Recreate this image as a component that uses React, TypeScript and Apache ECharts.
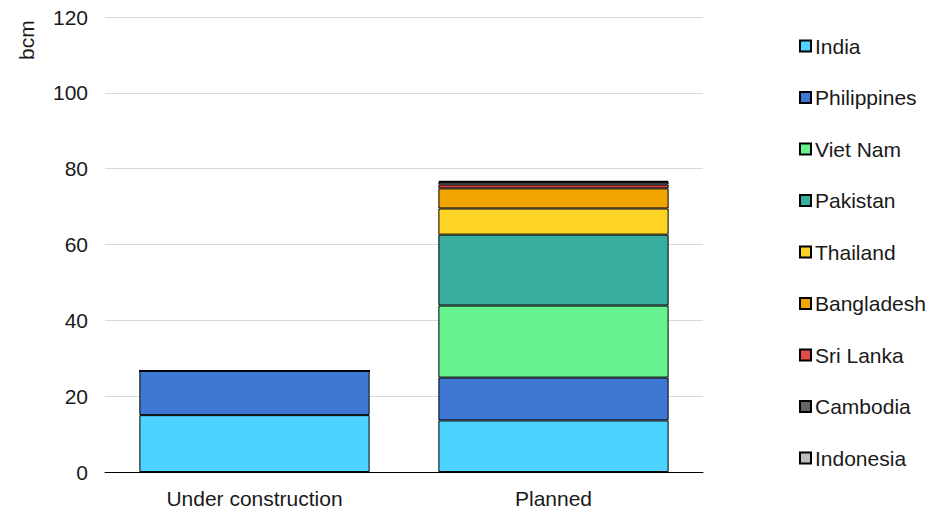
import React, { useEffect, useRef } from "react";
import * as echarts from "echarts";

const categories = ["Under construction", "Planned"];
const seriesNames = ["India", "Philippines", "Viet Nam", "Pakistan", "Thailand", "Bangladesh", "Sri Lanka", "Cambodia", "Indonesia"];
const india = [15.0, 13.6];
const philippines = [11.7, 11.3];
const vietNam = [0, 19.0];
const pakistan = [0, 18.7];
const thailand = [0, 6.9];
const bangladesh = [0, 5.3];
const sriLanka = [0, 1.0];
const cambodia = [0, 0.7];
const indonesia = [0, 0.3];
const seriesValues = [india, philippines, vietNam, pakistan, thailand, bangladesh, sriLanka, cambodia, indonesia];
const colors = ["#4dd3ff", "#3f78d2", "#67f290", "#38ae9f", "#fdd325", "#f0a500", "#e34a4a", "#666666", "#bdbdbd"];
const yTicks = [0, 20, 40, 60, 80, 100, 120];

export default function App() {
  const ref = useRef<HTMLDivElement>(null);
  useEffect(() => {
    const chart = echarts.init(ref.current!, null, { renderer: "svg" });
    const font = "Liberation Sans, Arial, sans-serif";
    chart.setOption({
      animation: false,
      textStyle: { fontFamily: font },
      grid: { left: 105, right: 241, top: 17, bottom: 42 },
      xAxis: {
        type: "category",
        data: categories,
        axisTick: { show: false },
        axisLine: { lineStyle: { color: "#000", width: 1 } },
        axisLabel: { fontSize: 21, color: "#1a1a1a", fontFamily: font, margin: 16 },
      },
      yAxis: {
        type: "value",
        min: yTicks[0],
        max: yTicks[yTicks.length - 1],
        interval: 20,
        axisLine: { show: false },
        axisTick: { show: false },
        axisLabel: { fontSize: 21, color: "#1a1a1a", fontFamily: font, margin: 17 },
        splitLine: { lineStyle: { color: "#d9d9d9", width: 1 } },
      },
      legend: {
        orient: "vertical",
        left: 794,
        top: 30.5,
        icon: "rect",
        itemWidth: 11,
        itemHeight: 11,
        itemGap: 30.5,
        data: seriesNames,
        textStyle: { fontSize: 21, color: "#1a1a1a", fontFamily: font, padding: [0, 0, 0, -1], height: 21, lineHeight: 21 },
        selectedMode: false,
      },
      graphic: [
        {
          type: "text",
          x: 16,
          y: 60,
          rotation: Math.PI / 2,
          style: { text: "bcm", font: `21px ${font}`, fill: "#1a1a1a" },
        },
      ],
      series: seriesNames.map((name, i) => ({
        name,
        type: "bar",
        stack: "total",
        data: seriesValues[i],
        barCategoryGap: "23%",
        itemStyle: { color: colors[i], borderColor: "#000", borderWidth: 1 },
      })),
    });
    return () => chart.dispose();
  }, []);
  return <div ref={ref} style={{ width: 944, height: 514, position: "absolute", left: 0, top: 0 }} />;
}
